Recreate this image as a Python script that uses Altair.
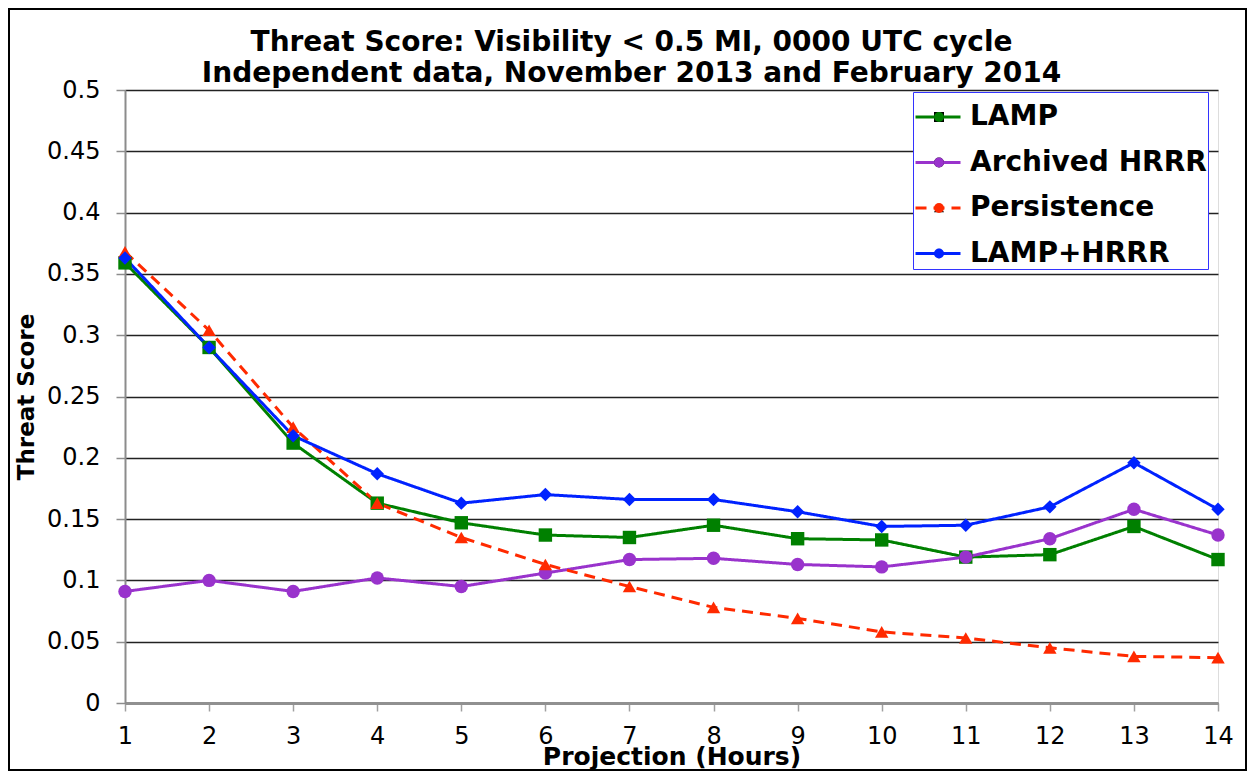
import altair as alt
import pandas as pd

# ---- data ----
hours = list(range(1, 15))
series_names = ["LAMP", "Archived HRRR", "Persistence", "LAMP+HRRR"]
lamp = [0.359, 0.290, 0.212, 0.163, 0.147, 0.137, 0.135, 0.145, 0.134, 0.133, 0.119, 0.121, 0.144, 0.117]
archived_hrrr = [0.091, 0.100, 0.091, 0.102, 0.095, 0.106, 0.117, 0.118, 0.113, 0.111, 0.119, 0.134, 0.158, 0.137]
persistence = [0.368, 0.304, 0.225, 0.163, 0.135, 0.113, 0.095, 0.078, 0.069, 0.058, 0.053, 0.045, 0.038, 0.037]
lamp_hrrr = [0.363, 0.290, 0.218, 0.187, 0.163, 0.170, 0.166, 0.166, 0.156, 0.144, 0.145, 0.160, 0.196, 0.158]
y_ticks = [0, 0.05, 0.1, 0.15, 0.2, 0.25, 0.3, 0.35, 0.4, 0.45, 0.5]

colors = ["#008000", "#9933cc", "#ff2a00", "#0022ff"]
shapes = ["square", "circle", "triangle-up", "diamond"]
dashes = [[1, 0], [1, 0], [11, 7], [1, 0]]

rows = []
for name, vals in zip(series_names, [lamp, archived_hrrr, persistence, lamp_hrrr]):
    for h, v in zip(hours, vals):
        rows.append({"hour": h, "score": v, "series": name, "marker": name})
df = pd.DataFrame(rows)

FONT = "DejaVu Sans"

x_enc = alt.X(
    "hour:Q",
    scale=alt.Scale(domain=[1, 14], nice=False, zero=False),
    axis=alt.Axis(
        values=hours, format="d", grid=False, labelFlush=False,
        domainColor="#909090", domainWidth=3,
        tickColor="#a0a0a0", tickSize=8, tickWidth=1.5,
        labelFont=FONT, labelFontSize=24, labelColor="black", labelPadding=13,
        title="Projection (Hours)", titleFont=FONT, titleFontSize=25,
        titleFontWeight="bold", titleColor="black", titlePadding=-4,
    ),
)
y_enc = alt.Y(
    "score:Q",
    scale=alt.Scale(domain=[0, 0.5], nice=False),
    axis=alt.Axis(
        values=y_ticks, format=".2~f", grid=True, labelFlush=False,
        gridColor="#222222", gridWidth=1.5,
        domainColor="#8c8c8c", domainWidth=2,
        tickColor="#8c8c8c", tickSize=9, tickWidth=1.5,
        labelFont=FONT, labelFontSize=24, labelColor="black", labelPadding=16,
        title="Threat Score", titleFont=FONT, titleFontSize=23,
        titleFontWeight="bold", titleColor="black", titlePadding=8,
    ),
)

line_legend = alt.Legend(
    orient="none", legendX=788, legendY=2, title=None,
    symbolType="stroke", symbolSize=2025, symbolStrokeWidth=3,
    labelFont=FONT, labelFontWeight="bold", labelFontSize=28,
    labelColor="black", labelOffset=8, labelLimit=600,
    rowPadding=7.5, padding=1,
    strokeColor="#3333ff", fillColor="white",
)

marker_legend = alt.Legend(
    orient="none", legendX=788 + 1 + 24 - 13, legendY=13, title=None,
    symbolSize=100, symbolStrokeWidth=0, symbolOpacity=1,
    labelFont=FONT, labelFontWeight="bold", labelFontSize=28,
    labelOpacity=0, labelOffset=8, labelLimit=600,
    rowPadding=17.5, padding=0,
)

base = alt.Chart(df)

lines = base.mark_line(strokeWidth=3).encode(
    x=x_enc,
    y=y_enc,
    color=alt.Color("series:N", scale=alt.Scale(domain=series_names, range=colors), legend=line_legend),
    strokeDash=alt.StrokeDash("series:N", scale=alt.Scale(domain=series_names, range=dashes), legend=line_legend),
)

points = base.mark_point(filled=True, size=180, opacity=1, strokeWidth=0).encode(
    x="hour:Q",
    y="score:Q",
    fill=alt.Fill("marker:N", sort=series_names, scale=alt.Scale(range=colors), legend=marker_legend),
    shape=alt.Shape("marker:N", sort=series_names, scale=alt.Scale(range=shapes), legend=marker_legend),
)

frame = alt.Chart(alt.Data(values=[{}])).mark_rect(
    fill=None, stroke="black", strokeWidth=2
).encode(
    x=alt.value(-116), x2=alt.value(1121), y=alt.value(-81), y2=alt.value(680)
)

chart = alt.layer(frame, lines, points).properties(
    width=1093,
    height=613,
    autosize="none",
    padding={"left": 117, "top": 82, "right": 29, "bottom": 71},
    title=alt.TitleParams(
        text=["Threat Score: Visibility < 0.5 MI, 0000 UTC cycle",
              "Independent data, November 2013 and February 2014"],
        font=FONT, fontSize=28, fontWeight="bold", color="black",
        anchor="middle", dx=-40, offset=-80, lineHeight=31,
    ),
).configure_view(
    stroke="black", strokeWidth=1.5
).configure(background="white")

chart.save("out.html", embed_options={"renderer": "svg", "actions": False})
